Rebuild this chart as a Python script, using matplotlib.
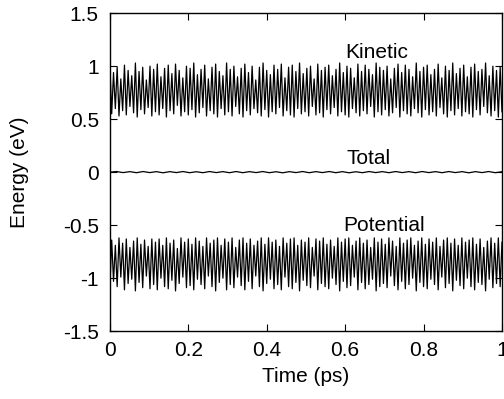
import matplotlib
matplotlib.use("Agg")
import matplotlib.pyplot as plt
import numpy as np

# extrema of the kinetic energy oscillation (eV)
kinetic_peaks = [
    1.02, 0.94, 0.99, 0.88, 1.01, 0.96, 0.91, 1.03, 0.95, 0.99, 0.87, 1.00,
    0.97, 1.02, 0.90, 0.98, 1.01, 0.93, 1.02, 0.96, 0.89, 1.00, 0.98, 1.03,
    0.92, 0.97, 1.01, 0.88, 0.99, 1.02, 0.95, 0.91, 1.03, 0.97, 1.00, 0.90,
    0.98, 1.02, 0.94, 1.00, 0.87, 0.99, 1.03, 0.96, 0.92, 1.01, 0.97, 1.02,
    0.89, 0.99, 1.01, 0.95, 1.03, 0.93, 0.98, 1.00, 0.88, 1.02, 0.96, 0.99,
    1.01, 0.91, 0.97, 1.03, 0.94, 1.00, 0.98, 0.89, 1.02, 0.95, 1.01, 0.97,
    0.92, 1.03, 0.99, 0.96, 1.00, 0.88, 0.98, 1.02, 0.94, 1.01, 0.97, 0.90,
    1.03, 0.95, 0.99, 1.01, 0.92, 0.97, 1.02, 0.89, 1.00, 0.96, 1.03, 0.93,
    0.98, 1.01, 0.90, 0.99, 1.02, 0.95, 0.97, 1.03, 0.91, 1.00, 0.96, 0.99,
]
kinetic_troughs = [
    0.55, 0.60, 0.53, 0.58, 0.54, 0.62, 0.56, 0.52, 0.59, 0.55, 0.61, 0.53,
    0.57, 0.54, 0.60, 0.52, 0.58, 0.55, 0.63, 0.53, 0.57, 0.54, 0.59, 0.52,
    0.56, 0.61, 0.53, 0.58, 0.55, 0.52, 0.60, 0.54, 0.57, 0.53, 0.62, 0.55,
    0.52, 0.58, 0.54, 0.60, 0.56, 0.53, 0.59, 0.52, 0.57, 0.55, 0.61, 0.53,
    0.58, 0.54, 0.52, 0.60, 0.55, 0.57, 0.53, 0.62, 0.54, 0.56, 0.52, 0.59,
    0.55, 0.61, 0.53, 0.57, 0.54, 0.52, 0.60, 0.56, 0.53, 0.58, 0.55, 0.62,
    0.52, 0.57, 0.54, 0.59, 0.53, 0.56, 0.61, 0.52, 0.58, 0.55, 0.53, 0.60,
    0.56, 0.52, 0.59, 0.54, 0.57, 0.53, 0.61, 0.55, 0.52, 0.58, 0.54, 0.60,
    0.53, 0.57, 0.55, 0.52, 0.59, 0.54, 0.62, 0.56, 0.53, 0.58, 0.52, 0.57,
]

# extrema of the potential energy oscillation (eV)
potential_troughs = [
    -1.10, -1.03, -1.08, -0.99, -1.11, -1.05, -1.01, -1.12, -1.04, -1.09, -0.98, -1.10,
    -1.06, -1.11, -1.00, -1.08, -1.10, -1.02, -1.12, -1.05, -0.99, -1.09, -1.07, -1.11,
    -1.01, -1.06, -1.10, -0.98, -1.08, -1.12, -1.04, -1.00, -1.11, -1.06, -1.09, -0.99,
    -1.07, -1.11, -1.03, -1.10, -0.98, -1.08, -1.12, -1.05, -1.01, -1.10, -1.06, -1.11,
    -0.99, -1.08, -1.10, -1.04, -1.12, -1.02, -1.07, -1.09, -0.98, -1.11, -1.05, -1.08,
    -1.10, -1.00, -1.06, -1.12, -1.03, -1.09, -1.07, -0.99, -1.11, -1.04, -1.10, -1.06,
    -1.01, -1.12, -1.08, -1.05, -1.09, -0.98, -1.07, -1.11, -1.03, -1.10, -1.06, -1.00,
    -1.12, -1.04, -1.08, -1.10, -1.01, -1.06, -1.11, -0.99, -1.09, -1.05, -1.12, -1.02,
    -1.07, -1.10, -1.00, -1.08, -1.11, -1.04, -1.06, -1.12, -1.01, -1.09, -1.05, -1.08,
]
potential_peaks = [
    -0.64, -0.69, -0.62, -0.67, -0.63, -0.71, -0.65, -0.62, -0.68, -0.64, -0.70, -0.63,
    -0.66, -0.63, -0.69, -0.62, -0.67, -0.64, -0.72, -0.62, -0.66, -0.63, -0.68, -0.62,
    -0.65, -0.70, -0.62, -0.67, -0.64, -0.62, -0.69, -0.63, -0.66, -0.62, -0.71, -0.64,
    -0.62, -0.67, -0.63, -0.69, -0.65, -0.62, -0.68, -0.62, -0.66, -0.64, -0.70, -0.62,
    -0.67, -0.63, -0.62, -0.69, -0.64, -0.66, -0.62, -0.71, -0.63, -0.65, -0.62, -0.68,
    -0.64, -0.70, -0.62, -0.66, -0.63, -0.62, -0.69, -0.65, -0.62, -0.67, -0.64, -0.71,
    -0.62, -0.66, -0.63, -0.68, -0.62, -0.65, -0.70, -0.62, -0.67, -0.64, -0.62, -0.69,
    -0.65, -0.62, -0.68, -0.63, -0.66, -0.62, -0.70, -0.64, -0.62, -0.67, -0.63, -0.69,
    -0.62, -0.66, -0.64, -0.62, -0.68, -0.63, -0.71, -0.65, -0.62, -0.67, -0.62, -0.66,
]

# small wiggle of the total energy around zero (eV)
total_energy = [
    0.000, 0.006, -0.004, 0.005, -0.005, 0.006, -0.004, 0.005, -0.006, 0.005,
    -0.004, 0.006, -0.005, 0.004, -0.005, 0.006, -0.004, 0.005, -0.005, 0.006,
    -0.005, 0.005, -0.004, 0.006, -0.005, 0.004, -0.006, 0.005, -0.004, 0.006,
    -0.005, 0.005, -0.004, 0.006, -0.005, 0.005, -0.006, 0.004, -0.005, 0.006,
    -0.004, 0.005, -0.005, 0.006, -0.004, 0.005, -0.005, 0.006, -0.004, 0.005,
    -0.005, 0.006, -0.004, 0.005, -0.006, 0.005, -0.004, 0.006, -0.005, 0.004,
]

kinetic = np.ravel(np.column_stack([kinetic_peaks, kinetic_troughs]))
potential = np.ravel(np.column_stack([potential_troughs, potential_peaks]))
t_k = np.linspace(0, 1, len(kinetic))
t_p = np.linspace(0, 1, len(potential))
t_tot = np.linspace(0, 1, len(total_energy))

plt.rcParams['font.family'] = ['Liberation Sans', 'DejaVu Sans']

fig = plt.figure(figsize=(5.04, 3.99), dpi=100)
ax = fig.add_axes([0.218, 0.170, 0.778, 0.797])

ax.plot(t_k, kinetic, color='black', lw=0.9)
ax.plot(t_p, potential, color='black', lw=0.9)
ax.plot(t_tot, total_energy, color='black', lw=0.9)

ax.text(0.68, 1.13, "Kinetic", ha='center', va='center', fontsize=15)
ax.text(0.66, 0.13, "Total", ha='center', va='center', fontsize=15)
ax.text(0.70, -0.50, "Potential", ha='center', va='center', fontsize=15)

ax.set_xlim(0, 1)
ax.set_ylim(-1.5, 1.5)
ax.set_xticks([0, 0.2, 0.4, 0.6, 0.8, 1])
ax.set_xticklabels(["0", "0.2", "0.4", "0.6", "0.8", "1"])
ax.set_yticks([-1.5, -1, -0.5, 0, 0.5, 1, 1.5])
ax.set_yticklabels(["-1.5", "-1", "-0.5", "0", "0.5", "1", "1.5"])
ax.tick_params(axis='both', direction='in', top=True, right=True, length=5, labelsize=15)
ax.tick_params(axis='x', pad=7)
ax.tick_params(axis='y', pad=8)
ax.set_xlabel("Time (ps)", fontsize=15, labelpad=5)
ax.set_ylabel("Energy (eV)", fontsize=15, labelpad=24)
for s in ax.spines.values():
    s.set_linewidth(1.0)

fig.savefig("out.png", dpi=100)
